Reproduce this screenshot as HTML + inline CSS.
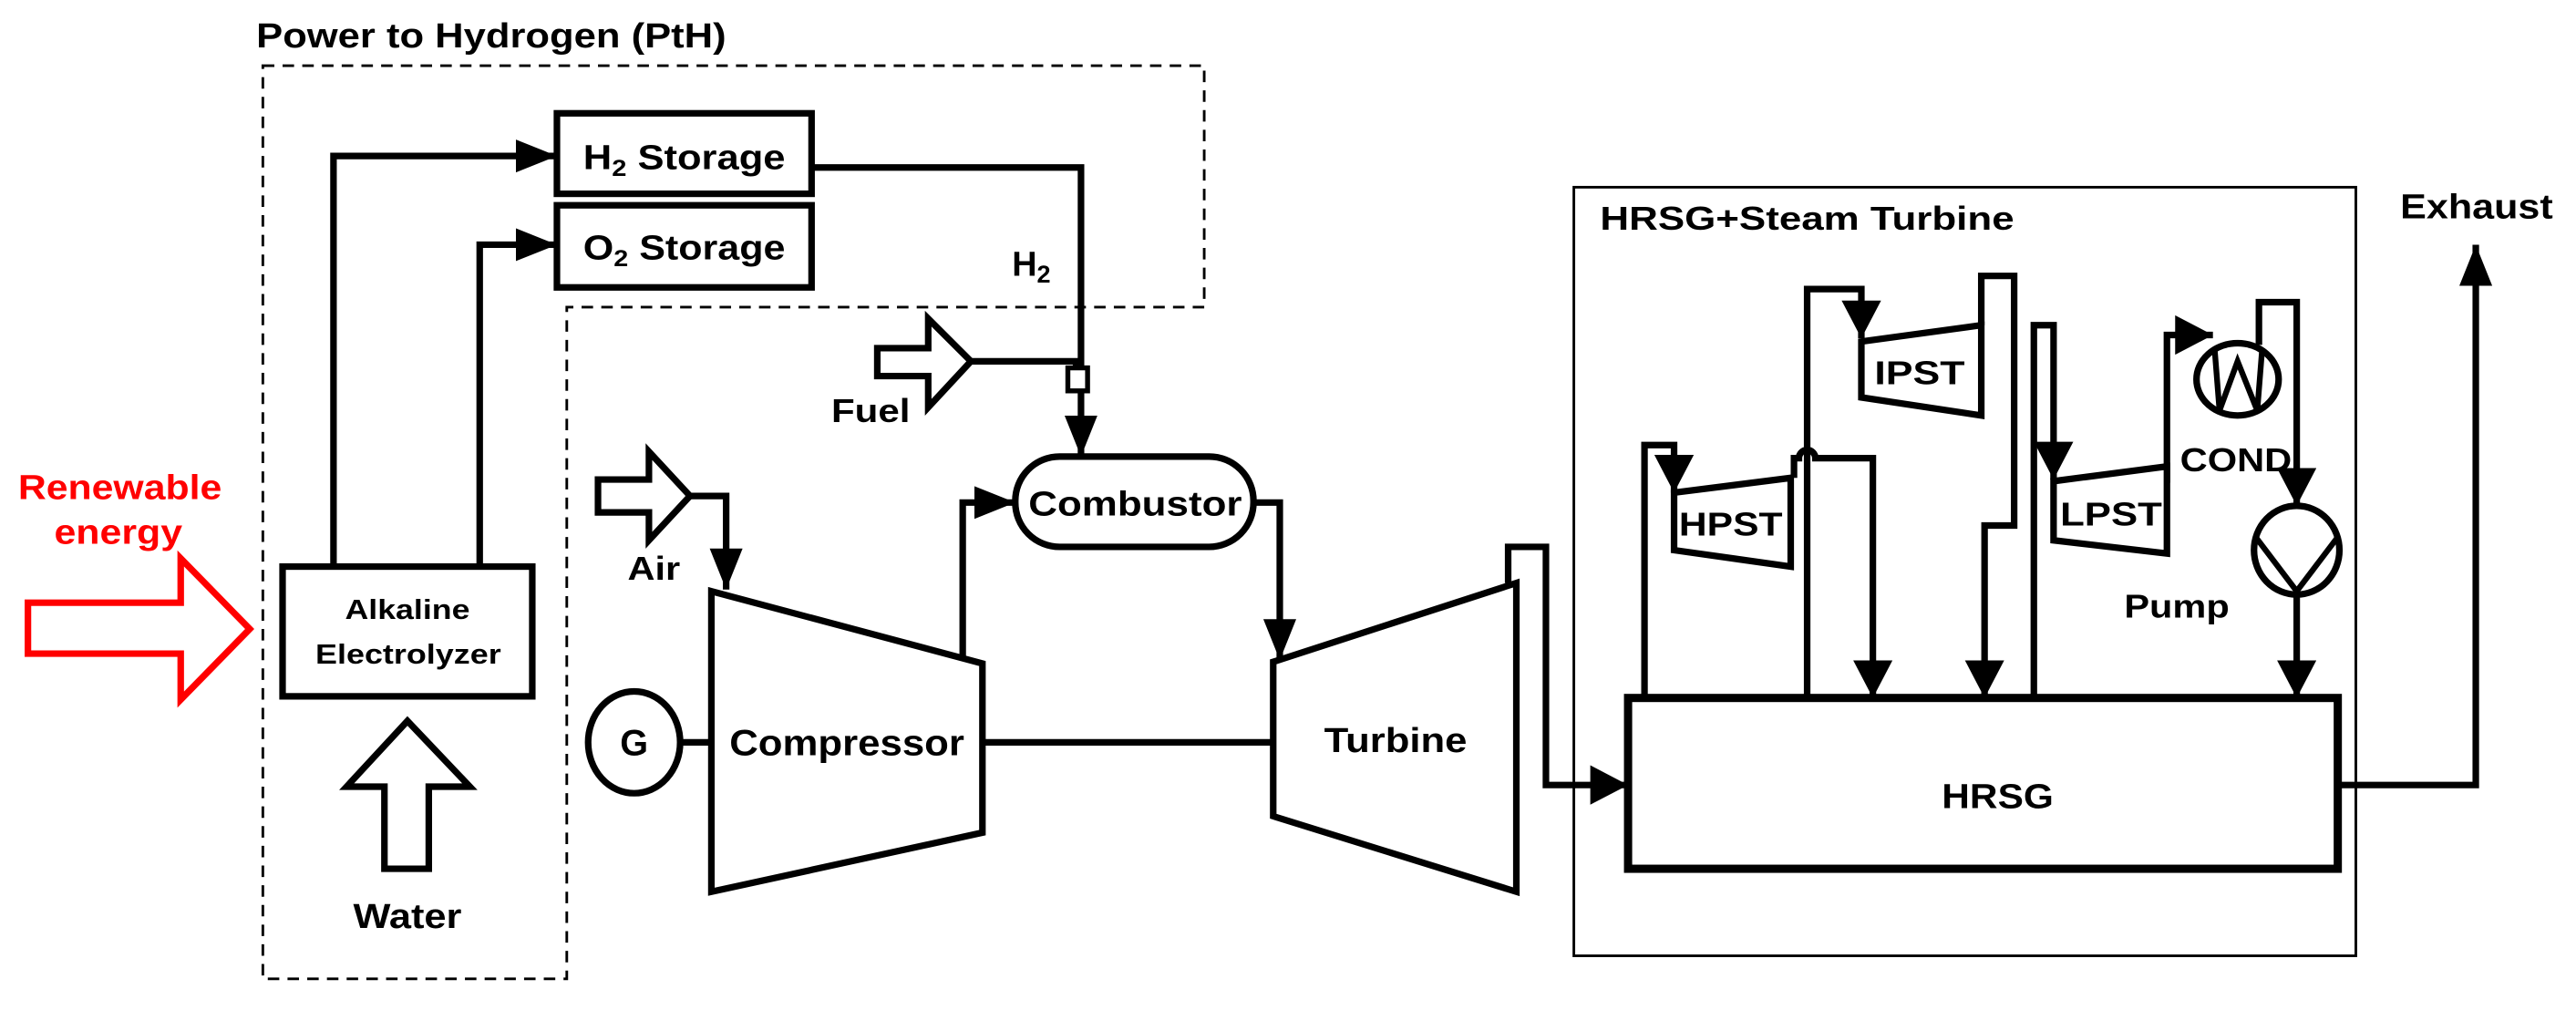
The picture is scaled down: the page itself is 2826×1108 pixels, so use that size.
<!DOCTYPE html>
<html><head><meta charset="utf-8"><style>
html,body{margin:0;padding:0;background:#fff;}
svg{display:block;}
text{font-family:"Liberation Sans",Arial,sans-serif;font-weight:bold;fill:#000;}
</style></head><body>
<svg width="2826" height="1108" viewBox="0 0 1568 615" preserveAspectRatio="none" xmlns="http://www.w3.org/2000/svg">
<defs>
<marker id="a" markerUnits="userSpaceOnUse" markerWidth="26" markerHeight="22" refX="25" refY="10" orient="auto"><path d="M0,0 L25,10 L0,20 z" fill="#000"/></marker>
<marker id="b" markerUnits="userSpaceOnUse" markerWidth="24" markerHeight="26" refX="23" refY="12" orient="auto"><path d="M0,0 L23,12 L0,24 z" fill="#000"/></marker>
</defs>
<rect width="1568" height="615" fill="#fff"/>
<path d="M160,40 H733 V187 H345 V596 H160 Z" fill="none" stroke="#000" stroke-width="1.6" stroke-dasharray="7,5"/>
<text x="156" y="29" font-size="21" textLength="286" lengthAdjust="spacingAndGlyphs">Power to Hydrogen (PtH)</text>
<rect x="958" y="114" width="476" height="468" fill="none" stroke="#000" stroke-width="1.6"/>
<text x="974" y="140" font-size="20" textLength="252" lengthAdjust="spacingAndGlyphs">HRSG+Steam Turbine</text>

<g fill="none" stroke="#000" stroke-width="4" stroke-linejoin="miter">
<path d="M203,345 V95 H339" marker-end="url(#a)"/>
<path d="M292,345 V149 H339" marker-end="url(#a)"/>
<path d="M494,102 H658 V278" marker-end="url(#a)"/>
<path d="M591,220 H655 V226"/>
<path d="M420,302 H442 V359" marker-end="url(#a)"/>
<path d="M586,402 V306 H618" marker-end="url(#a)"/>
<path d="M763,306 H779 V402" marker-end="url(#a)"/>
<path d="M415,452 H433"/>
<path d="M598,452 H775"/>
<path d="M918,355 V333 H941 V478 H991" marker-end="url(#b)"/>
<path d="M1423,478 H1507 V149" marker-end="url(#a)"/>
<path d="M1001,425 V271 H1019 V300" marker-end="url(#b)"/>
<path d="M1100,425 V176 H1133 V206" marker-end="url(#b)"/>
<path d="M1092,291 V279 H1095 a5,5 0 0 1 10,0 H1140 V425" marker-end="url(#b)"/>
<path d="M1206,198 V168 H1226 V320 H1208 V425" marker-end="url(#b)"/>
<path d="M1238,425 V198 H1250 V292" marker-end="url(#b)"/>
<path d="M1319,294 V204 H1347" marker-end="url(#b)"/>
<path d="M1375,210 V184 H1398 V308" marker-end="url(#b)"/>
<path d="M1398,363 V425" marker-end="url(#b)"/>

<rect x="339" y="69" width="155" height="49" fill="#fff"/>
<rect x="339" y="125" width="155" height="50" fill="#fff"/>
<rect x="172" y="345" width="152" height="79" fill="#fff"/>
<rect x="650" y="224" width="12" height="14" fill="#fff" stroke-width="3"/>
<rect x="618" y="278" width="145" height="55" rx="27" fill="#fff"/>
<polygon points="433,360 598,404 598,507 433,543" fill="#fff"/>
<polygon points="775,403 923,355 923,543 775,497" fill="#fff"/>
<ellipse cx="386" cy="452" rx="28" ry="31" fill="#fff"/>
<rect x="991" y="425" width="432" height="104" fill="#fff" stroke-width="5"/>
<polygon points="1019,300 1090,291 1090,345 1019,335" fill="#fff"/>
<polygon points="1133,208 1206,198 1206,253 1133,242" fill="#fff"/>
<polygon points="1250,293 1319,284 1319,337 1250,329" fill="#fff"/>
<ellipse cx="1362" cy="231" rx="25" ry="22" fill="#fff"/>
<path d="M1348,212 L1351,250 L1362,220 L1374,250 L1377,212" stroke-width="3.5"/>
<ellipse cx="1398" cy="335" rx="26" ry="27" fill="#fff"/>
<path d="M1373,327 L1398,360 L1423,327" stroke-width="3.5"/>

<polygon points="17,367 110,367 110,340 152,383 110,426 110,398 17,398" stroke="#f00" fill="#fff"/>
<polygon points="534,212 565,212 565,194 591,220 565,248 565,229 534,229" fill="#fff"/>
<polygon points="364,292 395,292 395,275 420,302 395,329 395,312 364,312" fill="#fff"/>
<polygon points="234,529 234,479 211,479 248,439 286,479 261,479 261,529" fill="#fff"/>
</g>

<text x="355" y="103" font-size="21" textLength="123" lengthAdjust="spacingAndGlyphs">H<tspan font-size="14" dy="4">2</tspan><tspan dy="-4"> Storage</tspan></text>
<text x="355" y="158" font-size="21" textLength="123" lengthAdjust="spacingAndGlyphs">O<tspan font-size="14" dy="4">2</tspan><tspan dy="-4"> Storage</tspan></text>
<text x="616" y="168" font-size="21">H<tspan font-size="15" dy="4">2</tspan></text>
<text x="506" y="257" font-size="20" textLength="48" lengthAdjust="spacingAndGlyphs">Fuel</text>
<text x="11" y="304" font-size="21" style="fill:#f00" textLength="124" lengthAdjust="spacingAndGlyphs">Renewable</text>
<text x="33" y="331" font-size="21" style="fill:#f00" textLength="78" lengthAdjust="spacingAndGlyphs">energy</text>
<text x="382" y="353" font-size="20" textLength="32" lengthAdjust="spacingAndGlyphs">Air</text>
<text x="210" y="377" font-size="17" textLength="76" lengthAdjust="spacingAndGlyphs">Alkaline</text>
<text x="192" y="404" font-size="17" textLength="113" lengthAdjust="spacingAndGlyphs">Electrolyzer</text>
<text x="386" y="460" font-size="22" text-anchor="middle">G</text>
<text x="444" y="460" font-size="22" textLength="143" lengthAdjust="spacingAndGlyphs">Compressor</text>
<text x="626" y="314" font-size="21" textLength="130" lengthAdjust="spacingAndGlyphs">Combustor</text>
<text x="215" y="565" font-size="21" textLength="66" lengthAdjust="spacingAndGlyphs">Water</text>
<text x="806" y="458" font-size="21" textLength="87" lengthAdjust="spacingAndGlyphs">Turbine</text>
<text x="1182" y="492" font-size="21" textLength="68" lengthAdjust="spacingAndGlyphs">HRSG</text>
<text x="1461" y="133" font-size="21" textLength="93" lengthAdjust="spacingAndGlyphs">Exhaust</text>
<text x="1022" y="326" font-size="20" textLength="63" lengthAdjust="spacingAndGlyphs">HPST</text>
<text x="1141" y="234" font-size="20" textLength="55" lengthAdjust="spacingAndGlyphs">IPST</text>
<text x="1254" y="320" font-size="20" textLength="62" lengthAdjust="spacingAndGlyphs">LPST</text>
<text x="1327" y="287" font-size="20" textLength="68" lengthAdjust="spacingAndGlyphs">COND</text>
<text x="1293" y="376" font-size="20" textLength="64" lengthAdjust="spacingAndGlyphs">Pump</text>
</svg>
</body></html>
